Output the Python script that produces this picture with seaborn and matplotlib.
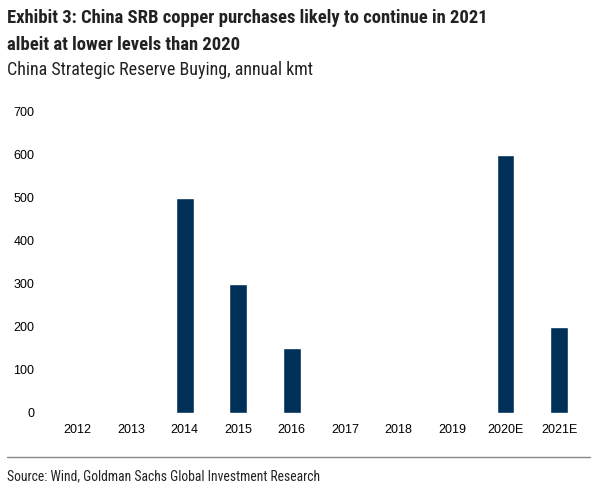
import matplotlib
matplotlib.use("Agg")
import matplotlib.pyplot as plt
import seaborn as sns
import pandas as pd
from matplotlib import font_manager

categories = ["2012", "2013", "2014", "2015", "2016", "2017", "2018", "2019", "2020E", "2021E"]
values = [0, 0, 500, 300, 150, 0, 0, 0, 600, 200]
yticks = [0, 100, 200, 300, 400, 500, 600, 700]

title = "Exhibit 3: China SRB copper purchases likely to continue in 2021\nalbeit at lower levels than 2020"
subtitle = "China Strategic Reserve Buying, annual kmt"
source = "Source: Wind, Goldman Sachs Global Investment Research"

sns.set_theme(style="white")
names = {f.name for f in font_manager.fontManager.ttflist}
narrow = "Liberation Sans Narrow" if "Liberation Sans Narrow" in names else "Roboto Condensed" if "Roboto Condensed" in names else "DejaVu Sans Condensed"
plt.rcParams['font.family'] = ['Liberation Sans', 'DejaVu Sans']

df = pd.DataFrame({"cat": categories, "val": values})
fig = plt.figure(figsize=(5.96, 4.91), dpi=100)
ax = fig.add_axes([0.0856, 0.1589, 0.8974, 0.6131])
sns.barplot(data=df, x="cat", y="val", color="#003057", width=0.33, saturation=1, ax=ax)
ax.set_ylim(0, 700)
ax.set_yticks(yticks)
ax.set_xlim(-0.5, len(categories) - 0.5)
ax.set_xlabel("")
ax.set_ylabel("")
for s in ax.spines.values():
    s.set_visible(False)
ax.tick_params(axis="both", length=0, labelsize=9, colors="#000000")
ax.tick_params(axis="y", pad=12)
ax.tick_params(axis="x", pad=8)

fig.text(0.012, 0.982, title, ha="left", va="top", fontsize=13.4, fontweight="bold",
         family=[narrow, 'DejaVu Sans'], color="#222222", linespacing=1.62)
fig.text(0.012, 0.876, subtitle, ha="left", va="top", fontsize=13,
         family=[narrow, 'DejaVu Sans'], color="#222222")
fig.add_artist(plt.Line2D([0.012, 0.99], [0.069, 0.069], color="#888888", lw=1, transform=fig.transFigure))
fig.text(0.012, 0.045, source, ha="left", va="top", fontsize=9.8,
         family=[narrow, 'DejaVu Sans'], color="#222222")

fig.savefig("out.png", dpi=100)
